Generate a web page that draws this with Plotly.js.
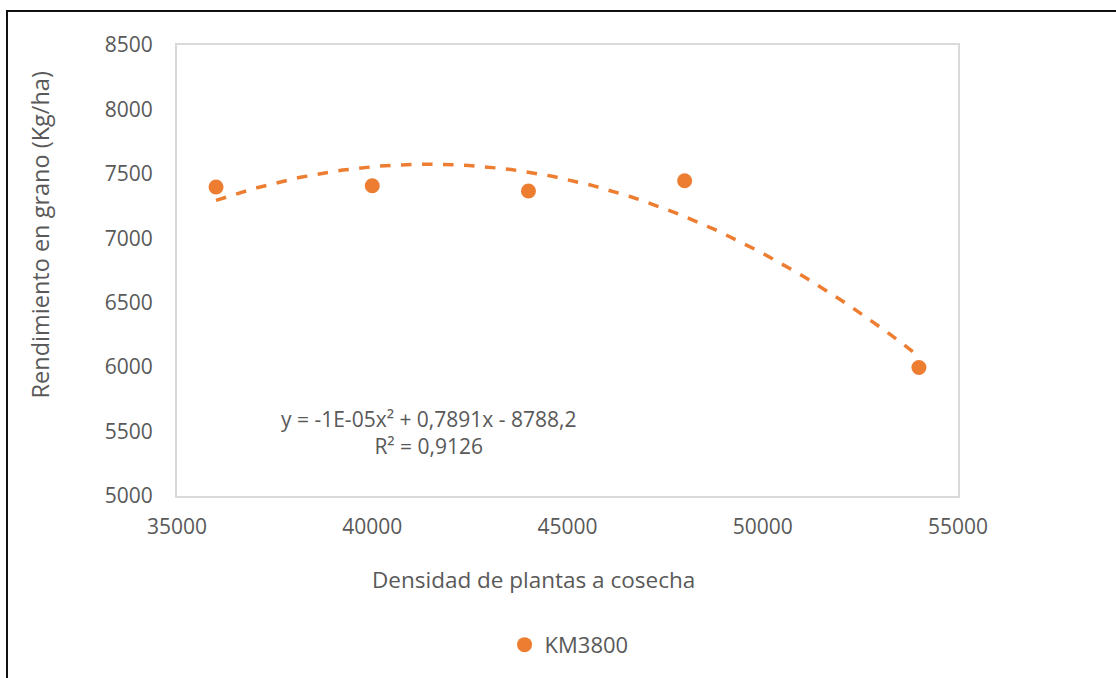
<!DOCTYPE html>
<html>
<head>
<meta charset="utf-8">
<script src="https://cdn.plot.ly/plotly-3.0.1.min.js"></script>
<style>
html, body { margin: 0; padding: 0; background: #fff; overflow: hidden; }
#frame { position: absolute; left: 6px; top: 10px; width: 1200px; height: 800px; border-left: 2px solid #111; border-top: 2px solid #111; }
#chart { position: absolute; left: 0; top: 0; width: 1116px; height: 678px; }
</style>
</head>
<body>
<div id="frame"></div>
<div id="chart"></div>
<script>
const seriesName = "KM3800";
const density = [36000, 40000, 44000, 48000, 54000];
const yieldKg = [7398, 7408, 7367, 7447, 5997];
const xTicks = [35000, 40000, 45000, 50000, 55000];
const yTicks = [5000, 5500, 6000, 6500, 7000, 7500, 8000, 8500];
const xTitle = "Densidad de plantas a cosecha";
const yTitle = "Rendimiento en grano (Kg/ha)";
const equationText = "y = -1E-05x² + 0,7891x - 8788,2<br>R² = 0,9126";

// Least-squares quadratic trendline (as Excel computes it) from the data
function polyFit2(xs, ys) {
  const m = xs.reduce((a, b) => a + b, 0) / xs.length;
  let S = [0,0,0,0,0], T = [0,0,0];
  xs.forEach((x, i) => {
    const u = x - m;
    for (let k = 0; k < 5; k++) S[k] += Math.pow(u, k);
    for (let k = 0; k < 3; k++) T[k] += Math.pow(u, k) * ys[i];
  });
  const A = [[S[0],S[1],S[2],T[0]],[S[1],S[2],S[3],T[1]],[S[2],S[3],S[4],T[2]]];
  for (let i = 0; i < 3; i++) {
    for (let j = i + 1; j < 3; j++) {
      const f = A[j][i] / A[i][i];
      for (let k = i; k < 4; k++) A[j][k] -= f * A[i][k];
    }
  }
  const c = [0,0,0];
  for (let i = 2; i >= 0; i--) {
    let s = A[i][3];
    for (let k = i + 1; k < 3; k++) s -= A[i][k] * c[k];
    c[i] = s / A[i][i];
  }
  return x => c[0] + c[1] * (x - m) + c[2] * (x - m) * (x - m);
}
const fit = polyFit2(density, yieldKg);
const xMin = Math.min(...density), xMax = Math.max(...density);
const trendX = [], trendY = [];
for (let i = 0; i <= 100; i++) {
  const x = xMin + (xMax - xMin) * i / 100;
  trendX.push(x); trendY.push(fit(x));
}

const orange = "#ED7D31";
const txt = "#595959";
const font = "Open Sans, sans-serif";

const data = [
  { x: trendX, y: trendY, type: "scatter", mode: "lines",
    line: { color: orange, width: 3.5, dash: "dash" },
    showlegend: false, hoverinfo: "skip" },
  { x: density, y: yieldKg, type: "scatter", mode: "markers", name: seriesName,
    marker: { color: orange, size: 15 } }
];

const layout = {
  width: 1116, height: 678,
  paper_bgcolor: "rgba(0,0,0,0)", plot_bgcolor: "#fff",
  margin: { l: 177, r: 158, t: 45, b: 182 },
  font: { family: font, size: 21, color: txt },
  xaxis: {
    range: [35000, 55000], tickvals: xTicks, ticktext: xTicks.map(String),
    showgrid: false, zeroline: false, showline: true, mirror: true,
    linecolor: "#d9d9d9", linewidth: 2, ticks: "", ticklabelstandoff: 11,
    tickfont: { family: font, size: 21, color: txt }
  },
  yaxis: {
    range: [5000, 8500], tickvals: yTicks, ticktext: yTicks.map(String),
    showgrid: false, zeroline: false, showline: true, mirror: true,
    linecolor: "#d9d9d9", linewidth: 2, ticks: "", ticklabelstandoff: 18,
    tickfont: { family: font, size: 21, color: txt }
  },
  showlegend: true,
  legend: { orientation: "h", x: 0.502, xanchor: "center", y: -0.33, yanchor: "middle",
    font: { family: font, size: 22, color: txt }, itemwidth: 30, tracegroupgap: 0 },
  annotations: [
    { x: 41430, y: 5490, xref: "x", yref: "y", showarrow: false,
      text: equationText, align: "center",
      font: { family: font, size: 21, color: txt } },
    { x: 0.456, y: -0.186, xref: "paper", yref: "paper", showarrow: false,
      xanchor: "center", yanchor: "middle", text: xTitle,
      font: { family: font, size: 22.5, color: txt } },
    { x: -0.176, y: 0.579, xref: "paper", yref: "paper", showarrow: false,
      xanchor: "center", yanchor: "middle", textangle: -90, text: yTitle,
      font: { family: font, size: 23.5, color: txt } }
  ]
};

Plotly.newPlot("chart", data, layout, { displayModeBar: false, staticPlot: true });
</script>
</body>
</html>
